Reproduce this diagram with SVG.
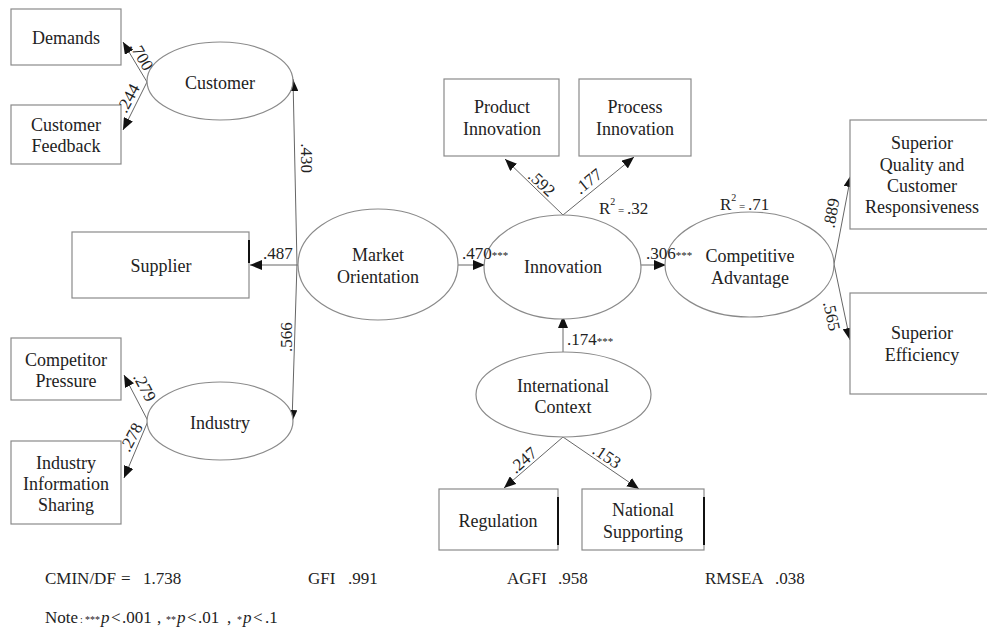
<svg xmlns="http://www.w3.org/2000/svg" width="987" height="635" viewBox="0 0 987 635">
<style>
text{font-family:"Liberation Serif","Times New Roman",serif;fill:#222;}
.n{font-size:18px;text-anchor:middle;}
.l{font-size:17px;}
.lc{font-size:17px;text-anchor:middle;}
.s{font-size:11px;}
.ns{font-size:10px;}
.box{fill:#fff;stroke:#8a8a8a;stroke-width:1.2;}
.ell{fill:#fff;stroke:#8a8a8a;stroke-width:1.2;}
.c{fill:none;stroke:#666;stroke-width:1;marker-end:url(#ah);}
.tk{stroke:#111;stroke-width:2;}
</style>
<defs>
<marker id="ah" markerUnits="userSpaceOnUse" markerWidth="12" markerHeight="10" refX="12" refY="5" orient="auto">
<path d="M0,0 L12,5 L0,10 z" fill="#111"/>
</marker>
</defs>
<rect width="987" height="635" fill="#fff"/>

<g id="connectors">
<path class="c" d="M147,82 L123,42"/>
<path class="c" d="M147,82 L123,130"/>
<path class="c" d="M297,264 L293,79"/>
<path class="c" d="M298,265 L250,265"/>
<path class="c" d="M297,264 L292,422"/>
<path class="c" d="M148,421 L124,375"/>
<path class="c" d="M148,421 L124,478"/>
<path class="c" d="M458,265 L485,265"/>
<path class="c" d="M563,215 L505,159"/>
<path class="c" d="M563,215 L634,157"/>
<path class="c" d="M641,265 L666,265"/>
<path class="c" d="M834,264 L851,175"/>
<path class="c" d="M834,264 L850,340"/>
<path class="c" d="M563,352 L563,316"/>
<path class="c" d="M563,437 L504,488"/>
<path class="c" d="M563,437 L639,489"/>
</g>

<g id="demands"><rect class="box" x="11" y="9" width="110" height="56"/><text class="n" x="66" y="44">Demands</text></g>
<g id="customer-feedback"><rect class="box" x="11" y="105" width="110" height="59"/><text class="n" x="66" y="131">Customer</text><text class="n" x="66" y="152">Feedback</text></g>
<g id="customer"><ellipse class="ell" cx="220" cy="81" rx="73" ry="39"/><text class="n" x="220" y="89">Customer</text></g>
<g id="supplier"><rect class="box" x="72" y="232" width="177" height="66"/><line class="tk" x1="249" y1="240" x2="249" y2="263"/><text class="n" x="161" y="272">Supplier</text></g>
<g id="market-orientation"><ellipse class="ell" cx="378" cy="264.5" rx="80" ry="55.5"/><text class="n" x="378" y="261">Market</text><text class="n" x="378" y="283">Orientation</text></g>
<g id="competitor-pressure"><rect class="box" x="11" y="338" width="110" height="62"/><text class="n" x="66" y="366">Competitor</text><text class="n" x="66" y="387">Pressure</text></g>
<g id="industry-information-sharing"><rect class="box" x="11" y="441" width="110" height="83"/><text class="n" x="66" y="469">Industry</text><text class="n" x="66" y="490">Information</text><text class="n" x="66" y="511">Sharing</text></g>
<g id="industry"><ellipse class="ell" cx="220" cy="421" rx="73" ry="39"/><text class="n" x="220" y="429">Industry</text></g>
<g id="product-innovation"><rect class="box" x="444" y="79" width="115" height="77"/><text class="n" x="502" y="113">Product</text><text class="n" x="502" y="135">Innovation</text></g>
<g id="process-innovation"><rect class="box" x="579" y="79" width="112" height="77"/><text class="n" x="635" y="113">Process</text><text class="n" x="635" y="135">Innovation</text></g>
<g id="innovation"><ellipse class="ell" cx="562.5" cy="267" rx="78.5" ry="52"/><text class="n" x="563" y="273">Innovation</text></g>
<g id="competitive-advantage"><ellipse class="ell" cx="749.5" cy="264.5" rx="84.5" ry="52.5"/><text class="n" x="750" y="262">Competitive</text><text class="n" x="750" y="284">Advantage</text></g>
<g id="superior-quality"><rect class="box" x="850" y="120" width="140" height="109"/><text class="n" x="922" y="149">Superior</text><text class="n" x="922" y="171">Quality and</text><text class="n" x="922" y="192">Customer</text><text class="n" x="922" y="213">Responsiveness</text></g>
<g id="superior-efficiency"><rect class="box" x="850" y="293" width="140" height="101"/><text class="n" x="922" y="339">Superior</text><text class="n" x="922" y="361">Efficiency</text></g>
<g id="international-context"><ellipse class="ell" cx="563.5" cy="394.5" rx="87.5" ry="42.5"/><text class="n" x="563" y="392">International</text><text class="n" x="563" y="413">Context</text></g>
<g id="regulation"><rect class="box" x="439" y="489" width="119" height="61"/><line class="tk" x1="558" y1="497" x2="558" y2="545"/><text class="n" x="498" y="527">Regulation</text></g>
<g id="national-supporting"><rect class="box" x="582" y="489" width="122" height="61"/><line class="tk" x1="704" y1="497" x2="704" y2="545"/><text class="n" x="643" y="516">National</text><text class="n" x="643" y="538">Supporting</text></g>

<g id="labels">
<text class="lc" transform="translate(142,56) rotate(60)" y="6">.700</text>
<text class="lc" transform="translate(128,98) rotate(-62)" y="6">.244</text>
<text class="lc" transform="translate(307,158) rotate(90)" y="6">.430</text>
<text class="l" x="263" y="259">.487</text>
<text class="lc" transform="translate(286,337) rotate(-90)" y="6">.566</text>
<text class="lc" transform="translate(145,387) rotate(62)" y="6">.279</text>
<text class="lc" transform="translate(131,437) rotate(-62)" y="6">.278</text>
<text class="l" x="462" y="259">.470<tspan class="s">***</tspan></text>
<text class="l" x="646" y="259">.306<tspan class="s">***</tspan></text>
<text class="l" x="567" y="345">.174<tspan class="s">***</tspan></text>
<text class="lc" transform="translate(542,183) rotate(43)" y="6">.592</text>
<text class="lc" transform="translate(588,181) rotate(-39)" y="6">.177</text>
<text class="lc" transform="translate(831,213) rotate(-80)" y="6">.889</text>
<text class="lc" transform="translate(832,316) rotate(78)" y="6">.565</text>
<text class="lc" transform="translate(523,460) rotate(-41)" y="6">.247</text>
<text class="lc" transform="translate(607,456) rotate(34)" y="6">.153</text>
<text class="l" x="599" y="214">R<tspan font-size="10" dy="-9">2</tspan><tspan font-size="11" dy="9"> = </tspan>.32</text>
<text class="l" x="720" y="210">R<tspan font-size="10" dy="-9">2</tspan><tspan font-size="11" dy="9"> = </tspan>.71</text>
</g>

<g id="fit-indices">
<text class="l" x="45" y="584" font-size="18">CMIN/DF</text>
<text class="l" x="121" y="584" font-size="11">=</text>
<text class="l" x="143" y="584" font-size="18">1.738</text>
<text class="l" x="308" y="584">GFI</text><text class="l" x="348" y="584">.991</text>
<text class="l" x="507" y="584">AGFI</text><text class="l" x="558" y="584">.958</text>
<text class="l" x="705" y="584">RMSEA</text><text class="l" x="775" y="584">.038</text>
<text class="l" x="45" y="623">Note</text>
<text class="ns" x="80" y="623">:</text>
<text class="ns" x="85" y="623">***</text>
<text class="l" x="101" y="623" font-style="italic">p</text>
<text class="l" x="111" y="623">&lt;</text>
<text class="l" x="122" y="623">.001</text>
<text class="l" x="157" y="623">,</text>
<text class="ns" x="166" y="623">**</text>
<text class="l" x="177" y="623" font-style="italic">p</text>
<text class="l" x="187" y="623">&lt;</text>
<text class="l" x="198" y="623">.01</text>
<text class="l" x="227" y="623">,</text>
<text class="ns" x="237" y="623">*</text>
<text class="l" x="243" y="623" font-style="italic">p</text>
<text class="l" x="253" y="623">&lt;</text>
<text class="l" x="265" y="623">.1</text>
</g>
</svg>
